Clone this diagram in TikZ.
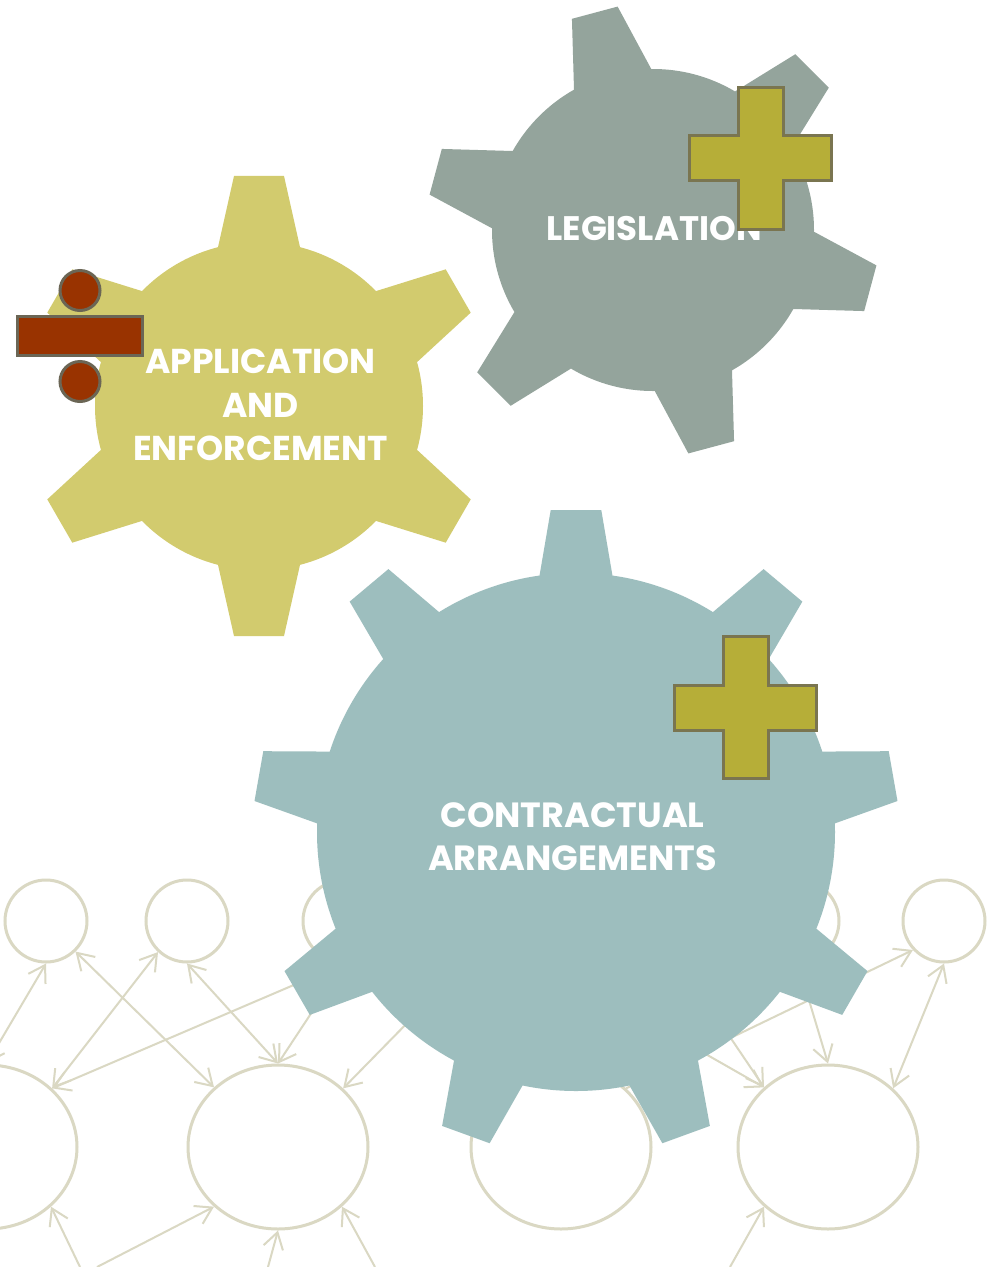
\documentclass[tikz,border=0pt]{standalone}
\usepackage{fontspec}
\setmainfont{Poppins}
\usetikzlibrary{arrows.meta,shapes.geometric}

\definecolor{applgear}{HTML}{D2CB6E}
\definecolor{legisgear}{HTML}{94A49C}
\definecolor{contrgear}{HTML}{9DBEBE}
\definecolor{plusfill}{HTML}{B6AE38}
\definecolor{plusline}{HTML}{7A7550}
\definecolor{divfill}{HTML}{993300}
\definecolor{divline}{HTML}{6B6655}
\definecolor{netline}{HTML}{DAD8C3}

\tikzset{
  >={Straight Barb[length=16pt,width=20pt]},
  small/.style={circle, draw=netline, line width=3pt, minimum size=82pt, inner sep=0pt},
  big/.style={ellipse, draw=netline, line width=3pt, minimum width=180pt, minimum height=164pt, inner sep=0pt},
  net/.style={draw=netline, line width=2pt},
  gearlabel/.style={text=white, align=center, inner sep=0pt},
  plussign/.style={fill=plusfill, draw=plusline, line width=3pt},
  divsign/.style={fill=divfill, draw=divline, line width=3pt}
}

\begin{document}
\begin{tikzpicture}[x=1pt,y=1pt]
  \useasboundingbox (0,0) rectangle (998,-1267);
  \clip (0,0) rectangle (998,-1267);
  \fill[white] (0,0) rectangle (998,-1267);

  \node[small] (s1) at (46,-921) {};
  \node[small] (s2) at (187,-921) {};
  \node[small] (s3) at (344,-921) {};
  \node[small] (s4) at (798,-921) {};
  \node[small] (s5) at (944,-921) {};
  \node[big] (b1) at (-13,-1147) {};
  \node[big] (b2) at (278,-1147) {};
  \node[big] (b3) at (561,-1147) {};
  \node[big] (b4) at (828,-1147) {};

  \coordinate (h1) at (466,-963);
  \coordinate (h2) at (680,-963);
  \coordinate (h3) at (632,-1012);
  \coordinate (e1) at (80,-1267);
  \coordinate (e2) at (97,-1267);
  \coordinate (e3) at (268,-1267);
  \coordinate (e4) at (375,-1267);
  \coordinate (e5) at (730,-1267);

  \draw[net,<->] (s1.south) -- (b1.north);
  \draw[net,<->] (s1.-46) -- (b2.137);
  \draw[net,<->] (s2.227) -- (b1.42);
  \draw[net,<->] (s2.south) -- (b2.north);
  \draw[net,->] (s3.south) -- (b1.42);
  \draw[net,->] (s3.south) -- (b2.north);
  \draw[net,->] (h1) -- (b2.42);
  \draw[net,->] (e1) -- (b1.-43);
  \draw[net,->] (e2) -- (b2.223);
  \draw[net,->] (e3) -- (b2.south);
  \draw[net,->] (e4) -- (b2.-43);
  \draw[net,->] (b3.42) -- (s5.223);
  \draw[net,->] (s4.south) -- (b4.north);
  \draw[net,<->] (s5.south) -- (b4.42);
  \draw[net,->] (h2) -- (b4.137);
  \draw[net,->] (h3) -- (b4.137);
  \draw[net,->] (e5) -- (b4.223);

  % gears
  \begin{scope}[shift={(259,-406)}]
    \fill[applgear] (0,0) circle (164)
      \foreach \a in {90,150,...,390} {
        ({\a-16.2}:155) -- ({\a-6.2}:231.4) -- ({\a+6.2}:231.4) -- ({\a+16.2}:155) -- cycle};
  \end{scope}
  \begin{scope}[shift={(653,-230)}]
    \fill[legisgear] (0,0) circle (161)
      \foreach \a in {105,165,...,405} {
        ({\a-16.2}:151.9) -- ({\a-6}:226.2) -- ({\a+6}:226.2) -- ({\a+16.2}:151.9) -- cycle};
  \end{scope}
  \begin{scope}[shift={(576,-832)}]
    \fill[contrgear] (0,0) circle (259)
      \foreach \a in {90,130,...,410} {
        ({\a-8.81}:249.3) -- ({\a-4.49}:323) -- ({\a+4.49}:323) -- ({\a+8.81}:249.3) -- cycle};
  \end{scope}

  \node[gearlabel, font=\bfseries\fontsize{34.5}{43.5}\selectfont] (appl) at (260.5,-405) {APPLICATION\\AND\\ENFORCEMENT};
  \node[gearlabel, font=\bfseries\fontsize{34}{43}\selectfont] (legis) at (654,-229) {LEGISLATION};
  \node[gearlabel, font=\bfseries\fontsize{35}{43}\selectfont] (contr) at (572.5,-836.5) {CONTRACTUAL\\ARRANGEMENTS};

  \draw[plussign] (760.5,-158) +(-22.5,71) -- +(22.5,71) -- +(22.5,22.5) -- +(71,22.5)
    -- +(71,-22.5) -- +(22.5,-22.5) -- +(22.5,-71) -- +(-22.5,-71) -- +(-22.5,-22.5)
    -- +(-71,-22.5) -- +(-71,22.5) -- +(-22.5,22.5) -- cycle;
  \draw[plussign] (745.5,-707.5) +(-22.5,71) -- +(22.5,71) -- +(22.5,22.5) -- +(71,22.5)
    -- +(71,-22.5) -- +(22.5,-22.5) -- +(22.5,-71) -- +(-22.5,-71) -- +(-22.5,-22.5)
    -- +(-71,-22.5) -- +(-71,22.5) -- +(-22.5,22.5) -- cycle;

  \draw[divsign] (80,-290.5) circle (20);
  \draw[divsign] (17.5,-316.5) rectangle (142.8,-355.8);
  \draw[divsign] (80,-381.5) circle (20);
\end{tikzpicture}
\end{document}
